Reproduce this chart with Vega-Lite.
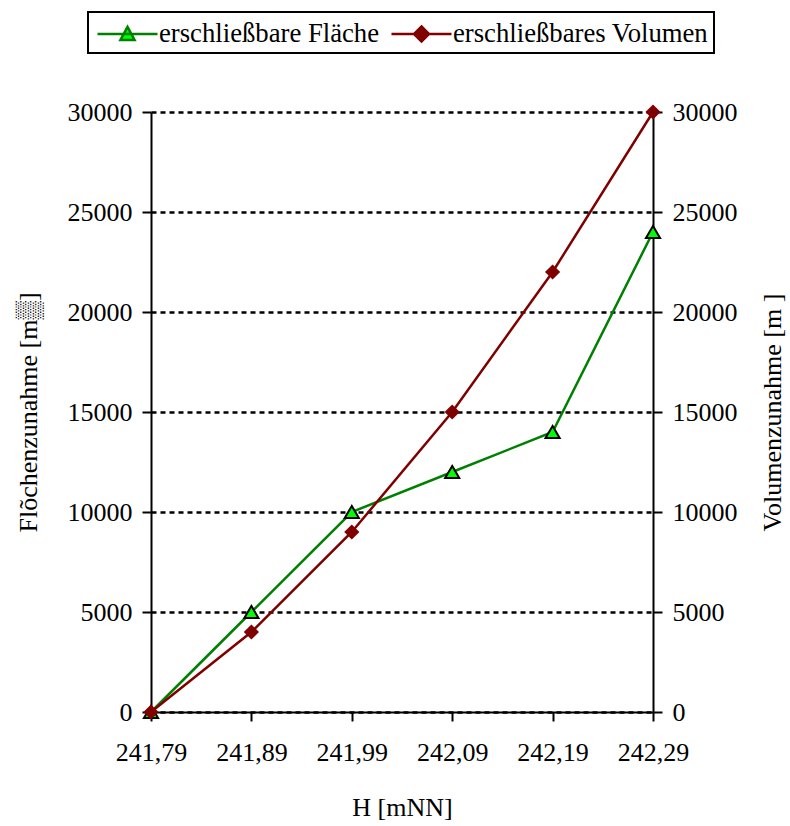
{
  "$schema": "https://vega.github.io/schema/vega-lite/v6.json",
  "autosize": "none",
  "width": 502,
  "height": 600,
  "padding": {"left": 151, "top": 112, "right": 137, "bottom": 114},
  "background": "white",
  "config": {
    "view": {"stroke": null},
    "font": "Liberation Serif",
    "axis": {
      "labelFont": "Liberation Serif",
      "titleFont": "Liberation Serif",
      "labelFontSize": 26,
      "titleFontSize": 26,
      "titleFontWeight": "normal",
      "labelColor": "black",
      "titleColor": "black",
      "domainColor": "black",
      "domainWidth": 2,
      "tickColor": "black",
      "tickWidth": 2,
      "tickSize": 9
    },
    "legend": {
      "labelFont": "Liberation Serif",
      "labelFontSize": 26.7,
      "labelColor": "black"
    }
  },
  "data": {
    "values": [
      {"H": "241,79", "serie": "erschließbare Fläche", "wert": 0},
      {"H": "241,89", "serie": "erschließbare Fläche", "wert": 5000},
      {"H": "241,99", "serie": "erschließbare Fläche", "wert": 10000},
      {"H": "242,09", "serie": "erschließbare Fläche", "wert": 12000},
      {"H": "242,19", "serie": "erschließbare Fläche", "wert": 14000},
      {"H": "242,29", "serie": "erschließbare Fläche", "wert": 24000},
      {"H": "241,79", "serie": "erschließbares Volumen", "wert": 0},
      {"H": "241,89", "serie": "erschließbares Volumen", "wert": 4000},
      {"H": "241,99", "serie": "erschließbares Volumen", "wert": 9000},
      {"H": "242,09", "serie": "erschließbares Volumen", "wert": 15000},
      {"H": "242,19", "serie": "erschließbares Volumen", "wert": 22000},
      {"H": "242,29", "serie": "erschließbares Volumen", "wert": 30000}
    ]
  },
  "encoding": {
    "x": {
      "field": "H",
      "type": "ordinal",
      "sort": null,
      "scale": {"type": "point", "padding": 0},
      "axis": {
        "title": "H [mNN]",
        "labelAngle": 0,
        "labelPadding": 18,
        "titlePadding": 29,
        "grid": false
      }
    }
  },
  "layer": [
    {
      "layer": [
        {
          "mark": {"type": "line", "strokeWidth": 2.5},
          "encoding": {
            "y": {
              "field": "wert",
              "type": "quantitative",
              "scale": {"domain": [0, 30000], "nice": false},
              "axis": {
                "title": "Flõchenzunahme [m▒]",
                "values": [0, 5000, 10000, 15000, 20000, 25000, 30000],
                "format": "d",
                "grid": true,
                "gridColor": "black",
                "gridWidth": 2.5,
                "gridDash": [5, 4],
                "gridOpacity": 1,
                "labelPadding": 10,
                "titlePadding": 26
              }
            },
            "stroke": {
              "field": "serie",
              "type": "nominal",
              "scale": {"domain": ["erschließbare Fläche", "erschließbares Volumen"], "range": ["#008000", "#800000"]},
              "legend": {
                "title": null,
                "orient": "none",
                "direction": "horizontal",
                "legendX": -63,
                "legendY": -100,
                "strokeColor": "black",
                "padding": 5,
                "columnPadding": 6,
                "labelOffset": 33,
                "labelLimit": 400,
                "symbolSize": 900,
                "symbolStrokeWidth": 2.5,
                "encode": {
                  "legend": {"update": {"strokeWidth": {"value": 2}}},
                  "symbols": {
                    "update": {
                      "shape": [
                        {"test": "datum.value === 'erschließbare Fläche'", "value": "M-0.8,0H3.2M1.2,-0.47L1.67,0.4H0.73Z"},
                        {"value": "M-0.8,0H3.2M1.2,-0.5L1.7,0L1.2,0.5L0.7,0Z"}
                      ],
                      "fill": [
                        {"test": "datum.value === 'erschließbare Fläche'", "value": "#00ff00"},
                        {"value": "#800000"}
                      ]
                    }
                  }
                }
              }
            }
          }
        },
        {
          "transform": [{"filter": "datum.serie === 'erschließbare Fläche'"}],
          "mark": {"type": "point", "shape": "triangle-up", "filled": true, "opacity": 1, "fill": "#00ff00", "stroke": "black", "strokeWidth": 2, "size": 200},
          "encoding": {
            "y": {"field": "wert", "type": "quantitative"}
          }
        },
        {
          "transform": [{"filter": "datum.serie === 'erschließbares Volumen'"}],
          "mark": {"type": "point", "shape": "diamond", "filled": true, "opacity": 1, "fill": "#800000", "size": 230},
          "encoding": {
            "y": {"field": "wert", "type": "quantitative"}
          }
        }
      ]
    },
    {
      "mark": {"type": "point", "opacity": 0},
      "encoding": {
        "y": {
          "field": "wert",
          "type": "quantitative",
          "scale": {"domain": [0, 30000], "nice": false},
          "axis": {
            "orient": "right",
            "title": "Volumenzunahme [m ]",
            "titleAngle": 270,
            "values": [0, 5000, 10000, 15000, 20000, 25000, 30000],
            "format": "d",
            "grid": false,
            "labelPadding": 10,
            "titlePadding": 48
          }
        }
      }
    }
  ],
  "resolve": {"scale": {"y": "independent"}}
}
